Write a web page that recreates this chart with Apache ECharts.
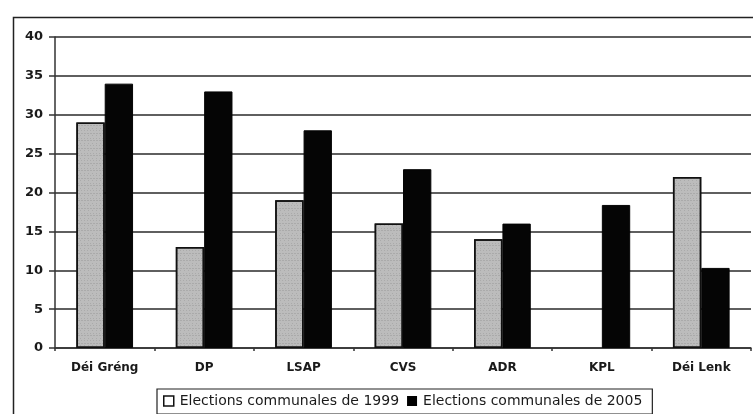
<!DOCTYPE html>
<html>
<head>
<meta charset="utf-8">
<script src="https://cdn.jsdelivr.net/npm/echarts@6/dist/echarts.min.js"></script>
<style>
html,body{margin:0;padding:0;background:#fff;}
#chart{width:753px;height:414px;}
</style>
</head>
<body>
<div id="chart"></div>
<script>
var parties = ['Déi Gréng', 'DP', 'LSAP', 'CVS', 'ADR', 'KPL', 'Déi Lenk'];
var seats1999 = [29, 13, 19, 16, 14, '-', 22];
var seats2005 = [34, 33, 28, 23, 16, 18.4, 10.3];
var yTicks = [0, 40, 5];
var names = ['Elections communales de 1999', 'Elections communales de 2005'];

var txt = {fontFamily: 'DejaVu Sans', fontWeight: 'bold', color: '#1a1a1a'};

var option = {
    backgroundColor: '#fff',
    animation: false,
    graphic: [{
        type: 'rect',
        left: 11, top: 15,
        shape: {width: 800, height: 450},
        style: {fill: 'none', stroke: '#222', lineWidth: 1.5},
        silent: true
    }],
    grid: {left: 55, right: 2, top: 37, bottom: 66, containLabel: false},
    legend: {
        left: 157, top: 389,
        padding: [5, 10, 6, 6],
        itemGap: 8,
        itemWidth: 10, itemHeight: 10,
        borderColor: '#222', borderWidth: 1.2,
        borderRadius: 0,
        textStyle: {fontFamily: 'DejaVu Sans', fontSize: 14, color: '#1a1a1a', padding: [0, 0, 0, 1]},
        data: [
            {name: names[0], icon: 'rect', itemStyle: {color: '#fff', borderColor: '#111', borderWidth: 1.5, decal: 'none'}},
            {name: names[1], icon: 'rect', itemStyle: {color: '#000', borderWidth: 0}}
        ]
    },
    xAxis: {
        type: 'category',
        data: parties,
        axisLine: {lineStyle: {color: '#333', width: 1.5}},
        axisTick: {show: true, length: 3, lineStyle: {color: '#333', width: 1.5}},
        axisLabel: Object.assign({fontSize: 12, margin: 14}, txt)
    },
    yAxis: {
        type: 'value',
        min: yTicks[0], max: yTicks[1], interval: yTicks[2],
        axisLine: {show: true, lineStyle: {color: '#333', width: 1.5}},
        axisTick: {show: true, length: 6, lineStyle: {color: '#333', width: 1.5}},
        axisLabel: Object.assign({fontSize: 13, margin: 12}, txt),
        splitLine: {lineStyle: {color: '#2a2a2a', width: 1.5}}
    },
    series: [{
        name: names[0],
        type: 'bar',
        data: seats1999,
        barGap: '0%',
        barCategoryGap: '43%',
        itemStyle: {
            color: '#bcbcbc',
            borderColor: '#111',
            borderWidth: 1.5,
            decal: {
                symbol: 'rect',
                symbolSize: 0.5,
                color: 'rgba(70,70,70,0.6)',
                dashArrayX: [[1, 2], [2, 1], [1, 3]],
                dashArrayY: [1, 2, 1, 1],
                rotation: 0
            }
        }
    }, {
        name: names[1],
        type: 'bar',
        data: seats2005,
        itemStyle: {color: '#050505', borderColor: '#050505', borderWidth: 1}
    }]
};

var chart = echarts.init(document.getElementById('chart'), null, {renderer: 'canvas'});
chart.setOption(option);
</script>
</body>
</html>
